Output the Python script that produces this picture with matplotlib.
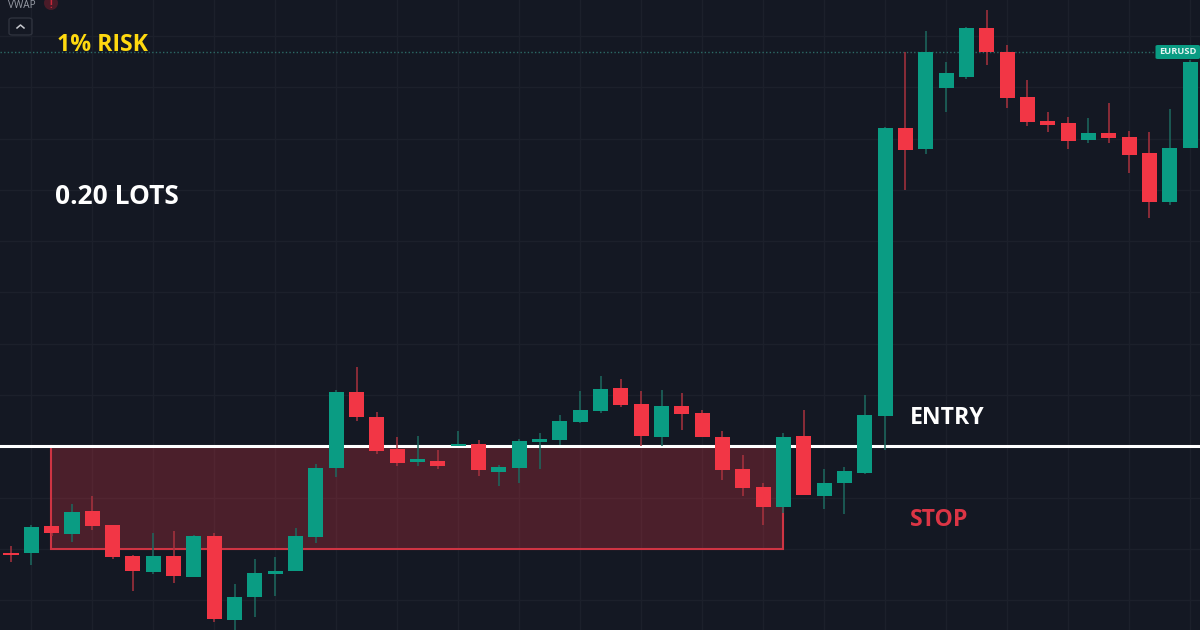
import matplotlib
matplotlib.use("Agg")
import matplotlib.pyplot as plt
from matplotlib.patches import Rectangle, FancyBboxPatch, Ellipse

# Chart levels (axis runs top-down, as on the screen)
opens = [552.5, 553, 526, 534, 511, 525.3, 555.7, 571.7, 555.7, 576.7, 535.7, 620, 597.3, 574, 570.7, 537.3,
         468.3, 392, 417, 449.3, 462.3, 460.7, 446, 444, 472, 467.7, 441.7, 439.7, 422.3, 411,
         388, 404, 437, 405.7, 413.3, 437, 469.3, 486.7, 506.7, 436, 495.7, 483.3, 472.7, 416,
         128.3, 149, 88.3, 77, 27.7, 52, 97, 121.3, 123, 139.7, 133, 137, 153, 202.3, 148.3]
closes = [553.5, 527, 532.7, 512, 526, 556.7, 570.7, 555.7, 575.7, 535.7, 619.3, 596.7, 573.3, 570.7, 535.7, 467.7,
          392, 417, 450.7, 463.3, 459.3, 466, 444, 470, 466.7, 441.3, 438.7, 421.3, 410, 389,
          405, 436, 405.7, 414.3, 437, 470, 487.7, 507, 437.3, 494.7, 483, 471, 414.7, 128.3,
          150, 51.7, 73.3, 27.7, 52.3, 97.7, 122, 124.7, 141.3, 133, 138.3, 154.7, 202.3, 147.7, 62]
highs = [546, 525.3, 526, 504, 495.7, 525, 555, 532.7, 530.7, 534.7, 533, 584, 559.3, 556.7, 528.3, 464.3,
         390, 367, 412, 437, 435.7, 450, 431, 440, 465, 439, 432.7, 415.3, 390.7, 376,
         379, 390.7, 390, 392.7, 410, 431, 454.7, 482.7, 433.3, 410, 468.7, 466.7, 395, 127,
         51.7, 30.7, 61.7, 27.3, 10, 45.3, 80.3, 112, 117, 118, 103.3, 130.7, 132, 108.7, 60]
lows = [561.7, 565, 536, 541.7, 530, 559, 590.7, 574, 582.7, 577, 621.7, 632, 616.7, 596, 571, 542.7,
        476.7, 421, 454, 466, 466, 469.3, 446, 476, 486, 483.3, 469, 445, 423.3, 413.3,
        407.3, 446, 446, 430, 437, 480, 496, 525, 513, 495, 509.3, 514, 474.3, 450,
        190, 154.3, 111.7, 79.3, 64.7, 108, 125.7, 132, 149.3, 143, 143, 172.7, 217.7, 205, 148]
directions = ["r", "g", "r", "g", "r", "r", "r", "g", "r", "g", "r", "g", "g", "g", "g", "g",
              "g", "r", "r", "r", "g", "r", "g", "r", "g", "g", "g", "g", "g", "g",
              "r", "r", "g", "r", "r", "r", "r", "r", "g", "r", "g", "g", "g", "g",
              "r", "g", "g", "g", "r", "r", "r", "r", "r", "g", "r", "r", "r", "g", "g"]
grid_levels = [36, 87, 139, 190, 241, 292, 344, 395, 446, 498, 549, 600]
grid_bars = list(range(1, 59, 3))
entry_level = 446
stop_level = 549
box_start, box_end = 1.95, 38
risk_level = 52

BG = "#141823"
GRID = "#1c202b"
GREEN = "#0A9C83"
RED = "#F23645"
WICK = {"g": "#1c6a60", "r": "#a9323e"}
BODY = {"g": GREEN, "r": RED}
FONT = ["Open Sans", "DejaVu Sans"]

fig = plt.figure(figsize=(12, 6.3), dpi=100, facecolor=BG)
ax = fig.add_axes([0, 0, 1, 1], facecolor=BG)
ax.set_xlim(-0.541, 58.49)
ax.set_ylim(630, 0)
ax.axis("off")


def fx(x):
    return x / 1200


def fy(y):
    return 1 - y / 630


for g in grid_levels:
    ax.axhline(g, color=GRID, lw=1, zorder=1)
for g in grid_bars:
    ax.axvline(g, color=GRID, lw=1, zorder=1)

ax.add_patch(Rectangle((box_start, entry_level), box_end - box_start, stop_level - entry_level,
                       facecolor="#F23645", alpha=0.25, edgecolor="none", zorder=2))
ax.plot([box_start, box_start, box_end, box_end], [entry_level, stop_level, stop_level, entry_level],
        color="#cf3443", lw=1.5, zorder=2.5, solid_joinstyle="miter")

ax.axhline(entry_level, color="white", lw=2.2, zorder=3)
ax.plot([-0.541, 56.5], [risk_level, risk_level], color="#2c6a66", lw=1, ls=(0, (1, 1.6)), zorder=3)

for i, (o, c, h, l, d) in enumerate(zip(opens, closes, highs, lows, directions)):
    ax.vlines(i, h, l, color=WICK[d], lw=1.1, zorder=4)
    ax.add_patch(Rectangle((i - 0.37, min(o, c)), 0.74, max(abs(o - c), 2),
                           facecolor=BODY[d], edgecolor="none", zorder=5))

ax.add_patch(FancyBboxPatch((fx(1155.5), fy(59)), fx(44.5), 14 / 630,
                            boxstyle="round,pad=0,rounding_size=0.002",
                            transform=fig.transFigure, facecolor=GREEN, edgecolor="none", zorder=6))
fig.text(fx(1177.5), fy(52), "EURUSD", color="#e6f5f2", fontsize=6.7, fontweight="bold",
         ha="center", va="center", family=FONT, zorder=7)

fig.text(fx(8), fy(5), "VWAP", color="#9a9ea8", fontsize=7.2, ha="left", va="center", family=FONT)
ax.add_patch(Ellipse((fx(51), fy(3)), 14 / 1200, 14 / 630, transform=fig.transFigure,
                     facecolor="#4a1b28", edgecolor="none"))
fig.text(fx(51), fy(5), "!", color="#c8283a", fontsize=7, fontweight="bold", ha="center", va="center", family=FONT)
ax.add_patch(FancyBboxPatch((fx(9), fy(35)), fx(23), 17 / 630,
                            boxstyle="round,pad=0,rounding_size=0.003", transform=fig.transFigure,
                            facecolor="none", edgecolor="#2e323d", lw=1))
ax.plot([fx(17), fx(20.5), fx(24)], [fy(28), fy(25), fy(28)], color="#c8cad0", lw=1.1,
        transform=fig.transFigure)

fig.text(fx(57), fy(51), "1% RISK", color="#FFD90F", fontsize=16.6, fontweight="bold", family=FONT, ha="left", va="baseline")
fig.text(fx(55), fy(204.5), "0.20 LOTS", color="white", fontsize=19, fontweight="bold", family=FONT, ha="left", va="baseline")
fig.text(fx(910), fy(424), "ENTRY", color="white", fontsize=16.6, fontweight="bold", family=FONT, ha="left", va="baseline")
fig.text(fx(910), fy(526), "STOP", color="#DC3545", fontsize=16.6, fontweight="bold", family=FONT, ha="left", va="baseline")

fig.savefig("out.png", dpi=100, facecolor=BG)
